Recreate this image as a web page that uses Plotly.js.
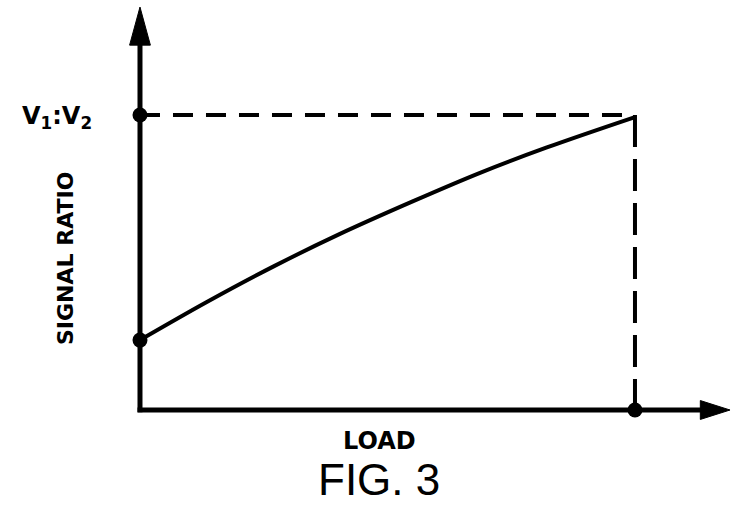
<!DOCTYPE html>
<html>
<head>
<meta charset="utf-8">
<script src="https://cdn.plot.ly/plotly-3.0.1.min.js"></script>
<style>html,body{margin:0;padding:0;background:#fff;}#chart{width:732px;height:509px;}</style>
</head>
<body>
<div id="chart"></div>
<script>
// Data (normalized: LOAD 0..1, SIGNAL RATIO 0..1 where 1 = V1:V2)
const loadValues = [0, 0.135, 0.269, 0.404, 0.552, 0.687, 0.822, 1.0];
const ratioValues = [0.237, 0.366, 0.486, 0.597, 0.708, 0.804, 0.890, 0.993];
const keyPointsX = [0, 0, 1];
const keyPointsY = [1, 0.237, 0];
const refLoad = 1;
const refRatio = 1;
const xRange = [-0.0808, 1.196];
const yRange = [-0.0678, 1.39];
const yTip = 1.366;

const ink = '#000';

const traces = [
  { x: [0, refLoad], y: [refRatio, refRatio], mode: 'lines',
    line: {color: ink, width: 4, dash: '20px,13px'}, hoverinfo: 'skip' },
  { x: [refLoad, refLoad], y: [refRatio, 0], mode: 'lines',
    line: {color: ink, width: 4, dash: '32px,12px'}, hoverinfo: 'skip' },
  { x: loadValues, y: ratioValues, mode: 'lines',
    line: {color: ink, width: 4, shape: 'spline', smoothing: 1}, hoverinfo: 'skip' },
  { x: keyPointsX, y: keyPointsY, mode: 'markers', cliponaxis: false,
    marker: {color: ink, size: 15}, hoverinfo: 'skip' }
];

const xTip = xRange[1] - 0.004;
const shapes = [
  { type: 'line', xref: 'x', yref: 'y', x0: 0, y0: -0.008, x1: 0, y1: yTip - 0.08,
    line: {color: ink, width: 5} },
  { type: 'line', xref: 'x', yref: 'y', x0: -0.005, y0: 0, x1: xTip - 0.04, y1: 0,
    line: {color: ink, width: 5} },
  { type: 'path', xref: 'x', yref: 'y',
    path: `M 0,${yTip} L ${-0.021},${yTip - 0.129} L ${0.021},${yTip - 0.129} Z`,
    fillcolor: ink, line: {color: ink, width: 1} },
  { type: 'path', xref: 'x', yref: 'y',
    path: `M ${xTip},0 L ${xTip - 0.06},0.032 L ${xTip - 0.06},-0.032 Z`,
    fillcolor: ink, line: {color: ink, width: 1} }
];

const boldFont = 'DejaVu Sans, Liberation Sans, Arial, sans-serif';
const figFont = 'Liberation Sans, Arial, sans-serif';
const annotations = [
  { text: '<b>V<sub>1</sub>:V<sub>2</sub></b>', x: -0.068, y: 0.727, xref: 'paper', yref: 'paper',
    xanchor: 'center', yanchor: 'middle',
    showarrow: false, font: {family: boldFont, size: 24, color: ink} },
  { text: '<b>SIGNAL RATIO</b>', x: -0.0554, y: 0.40, xref: 'paper', yref: 'paper', textangle: -90,
    xanchor: 'center', yanchor: 'middle',
    showarrow: false, font: {family: boldFont, size: 22, color: ink} },
  { text: '<b>LOAD</b>', x: 0.4415, y: -0.0256, xref: 'paper', yref: 'paper',
    xanchor: 'center', yanchor: 'middle',
    showarrow: false, font: {family: boldFont, size: 24, color: ink} },
  { text: 'FIG. 3', x: 0.4415, y: -0.114, xref: 'paper', yref: 'paper',
    xanchor: 'center', yanchor: 'middle',
    showarrow: false, font: {family: figFont, size: 44, color: ink} }
];

const axisCommon = { showgrid: false, zeroline: false, showticklabels: false,
  ticks: '', showline: false, fixedrange: true };

const layout = {
  width: 732, height: 509,
  margin: {l: 100, r: 0, t: 0, b: 79, pad: 0},
  paper_bgcolor: '#fff', plot_bgcolor: '#fff',
  showlegend: false,
  xaxis: Object.assign({range: xRange}, axisCommon),
  yaxis: Object.assign({range: yRange}, axisCommon),
  shapes: shapes,
  annotations: annotations
};

Plotly.newPlot('chart', traces, layout, {staticPlot: true, displayModeBar: false});
</script>
</body>
</html>
